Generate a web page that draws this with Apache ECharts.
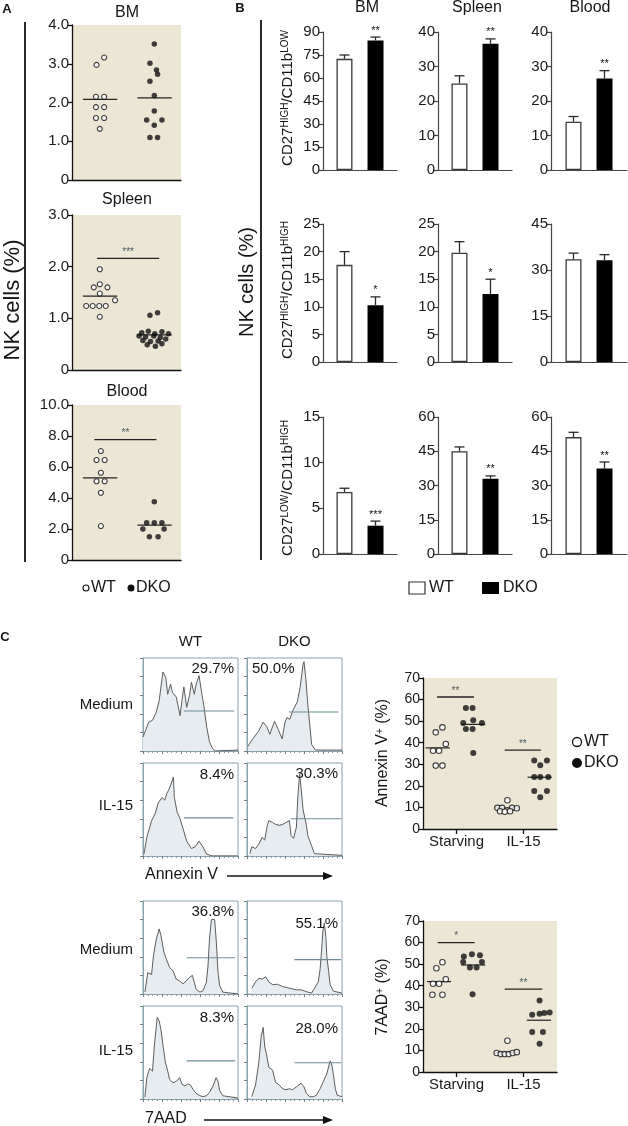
<!DOCTYPE html>
<html>
<head>
<meta charset="utf-8">
<script src="https://cdn.jsdelivr.net/npm/echarts@6.0.0/dist/echarts.min.js"></script>
<style>
html,body{margin:0;padding:0;background:#fff;}
#chart{width:628px;height:1126px;}
</style>
</head>
<body>
<div id="chart"></div>
<script>
// ================= DATA =================
// ---- Panel A: NK cells (%) ; points = [horizontal jitter from group centre, value]
const aTitles = ['BM', 'Spleen', 'Blood'];
const aTickLabels = [['0','1.0','2.0','3.0','4.0'], ['0','1.0','2.0','3.0'], ['0','2.0','4.0','6.0','8.0','10.0']];
const aBM_WT = [[-0.05,2.97],[0.09,3.16],[-0.06,2.15],[0.09,2.15],[-0.06,1.88],[0.09,1.88],[-0.06,1.60],[0.09,1.60],[0.01,1.32]];
const aBM_DKO = [[0.01,3.51],[-0.07,3.01],[0.05,2.84],[0.07,2.73],[-0.07,2.55],[0.01,2.18],[0.01,1.78],[-0.13,1.55],[0.15,1.55],[0.01,1.41],[-0.07,1.10],[0.07,1.10]];
const aSpleen_WT = [[0.01,1.95],[0.01,1.66],[-0.10,1.60],[0.15,1.60],[0.01,1.48],[0.29,1.35],[-0.24,1.24],[-0.12,1.24],[0.0,1.24],[0.12,1.24],[0.01,1.03]];
const aSpleen_DKO = [[-0.07,1.06],[0.07,1.11],[-0.22,0.72],[-0.10,0.75],[0.02,0.70],[0.15,0.74],[0.27,0.70],[-0.27,0.66],[-0.15,0.64],[0.0,0.66],[0.12,0.63],[0.22,0.60],[-0.20,0.57],[-0.06,0.55],[0.08,0.56],[-0.12,0.49],[0.03,0.46],[0.15,0.51]];
const aBlood_WT = [[0.03,7.03],[-0.05,6.45],[0.10,6.45],[0.03,5.63],[-0.05,5.08],[0.10,5.08],[0.03,4.34],[0.03,2.19]];
const aBlood_DKO = [[0.01,3.76],[-0.13,2.41],[0.01,2.41],[0.15,2.41],[-0.20,2.00],[0.19,2.00],[-0.08,1.50],[0.08,1.50]];
const aMedians = [[2.08, 2.12], [1.43, 0.68], [5.30, 2.25]];
const aSig = [null, [-0.04, 1.10, 2.16, '***'], [-0.09, 1.05, 7.76, '**']];

// ---- Panel B: subsets of NK cells (%), mean and SEM
const bTissues = ['BM', 'Spleen', 'Blood'];
const bSup = [['HIGH','LOW'], ['HIGH','HIGH'], ['LOW','HIGH']];
const bTicks = [
  [[0,15,30,45,60,75,90], [0,10,20,30,40], [0,10,20,30,40]],
  [[0,5,10,15,20,25], [0,5,10,15,20,25], [0,15,30,45]],
  [[0,5,10,15], [0,15,30,45,60], [0,15,30,45,60]]
];
const bWTMean = [[72.5,25.1,14.0],[17.6,19.8,33.5],[6.8,45.0,51.2]];
const bWTErr  = [[2.5,2.2,1.5],[2.4,2.0,2.0],[0.4,1.9,2.1]];
const bDKOMean = [[84.5,36.6,26.5],[10.3,12.3,33.2],[3.1,33.0,37.4]];
const bDKOErr  = [[2.2,1.4,2.3],[1.5,2.7,1.8],[0.5,1.2,2.9]];
const bStars = [['**','**','**'],['*','*',''],['***','**','**']];

// ---- Panel C: flow histograms ([channel %, count %])
const hAnnexMedWT = [[0,15],[6,31],[10,33],[14,42],[17,54],[21,85],[24,79],[26,61],[29,72],[31,63],[35,58],[39,38],[41,54],[43,69],[46,47],[49,60],[51,74],[54,61],[56,72],[59,81],[62,61],[64,49],[67,26],[70,10],[73,3],[76,0],[100,1]];
const hAnnexMedDKO = [[1,5],[6,13],[12,21],[17,31],[21,26],[24,18],[29,32],[33,23],[37,13],[40,31],[42,36],[45,34],[48,43],[53,53],[56,69],[59,93],[60,96],[62,77],[64,50],[66,29],[68,7],[72,1],[100,1]];
const hAnnexIL15WT = [[1,2],[4,20],[9,38],[13,46],[16,57],[20,63],[23,60],[25,67],[28,73],[31,82],[32,85],[33,63],[36,47],[39,40],[42,30],[46,16],[51,8],[55,10],[59,16],[63,10],[67,2],[73,0],[100,0]];
const hAnnexIL15DKO = [[3,2.5],[5,10],[9,8],[12.5,13],[16,20],[18.6,17],[21.4,33],[23,38],[27,36],[30,34],[34,33],[37.5,34],[41,36],[44.6,38],[46.4,22],[49,19],[52,31],[53.6,65],[55.4,88],[57,72],[59,50],[62.5,33],[64,22],[68,11],[71,2.5],[73,0.7],[100,0.7]];
const h7MedWT = [[2,2],[5,23],[9,21],[11,41],[14,59],[17,70],[19,62.5],[22,45],[24.6,37.5],[28,28.6],[31.6,25],[35,16],[38.6,14],[42,11],[45.6,14],[49,18],[52,20],[54,12.5],[56,5],[60,2],[63,3.5],[66.7,12.5],[68.4,30],[70,59],[72,80],[75.4,80],[77,59],[79,23],[80.7,9],[84,2],[100,0]];
const h7MedDKO = [[5,6],[9,13],[12.5,17],[16,16],[19.6,18.5],[23,13],[27,10],[28.6,11.5],[32,10.5],[37.5,8],[44.6,6.3],[46.4,7],[52,4.5],[57,4.5],[64,2],[68,1],[71,6],[75,13],[77,27],[78.6,48],[80,69],[81.4,76],[83,62],[84,41],[86,24],[87.5,10],[91,3],[100,1]];
const h7IL15WT = [[2,2],[4,23],[7,33],[10,30],[12,58],[15,88],[17,84],[19,74],[21,58],[23.5,40],[26,30],[28,21],[31.6,17.5],[35,19],[38.6,23],[41,16],[44,14],[47,16],[50,15],[52.6,10.5],[56,6],[60,3.5],[63,2.5],[66.7,3.5],[70,7],[73.7,14],[77,23],[79,19],[80.7,9],[84,3.5],[86,2],[100,1]];
const h7IL15DKO = [[5,2.5],[9,15],[12.5,40],[15,68],[17,77],[18.6,57],[20.7,47],[23,34],[27,31],[30,18],[34,15],[37.5,11],[41,10],[44.6,11],[48,10],[52,13],[54,15],[57,17],[60,13],[62.5,6],[66,2.5],[70,2.5],[73,4],[77,11],[80,18],[84,27],[87.5,41],[89,38],[91,26],[93,11],[95,4],[100,2.5]];
const hGates = [[[43,43],[96,43]], [[44,42],[96,42]], [[43,41],[95,41]], [[46,40],[99,40]],
                [[46,39],[97,39]], [[50,37],[99,37]], [[46,41],[97,41]], [[50,39],[99,39]]];
const hPct = ['29.7%','50.0%','8.4%','30.3%','36.8%','55.1%','8.3%','28.0%'];
const hCols = ['WT', 'DKO'];
const hRows = ['Medium', 'IL-15', 'Medium', 'IL-15'];
const hMarkers = ['Annexin V', '7AAD'];

// ---- Panel C: dot plots ; points = [position (Starving 0, IL-15 1, WT left / DKO right), value]
const cCats = ['Starving', 'IL-15'];
const cTicks = [0,10,20,30,40,50,60,70];
const cAnnexWT = [[-0.31,44.8],[-0.21,47.1],[-0.16,39.4],[-0.35,36.3],[-0.26,36.3],[-0.31,29.4],[-0.21,29.4],
                  [0.76,13.3],[0.61,9.8],[0.68,9.8],[0.83,9.8],[0.90,9.6],[0.65,8.2],[0.72,8.0],[0.80,8.2]];
const cAnnexDKO = [[0.14,56.1],[0.24,56.1],[0.10,49.1],[0.25,50.4],[0.38,49.1],[0.14,46.4],[0.24,46.4],[0.25,35.2],
                   [1.16,31.7],[1.35,31.7],[1.25,29.5],[1.16,24.1],[1.25,24.1],[1.37,24.1],[1.16,17.6],[1.35,17.6],[1.25,14.7]];
const cAnnexMed = [[-0.28,37.6],[0.25,48.5],[0.75,9.8],[1.24,24.0]];
const cAnnexSig = [[-0.29,0.26,61.2,'**'],[0.72,1.26,36.6,'**']];
const c7WT = [[-0.30,48.1],[-0.21,50.9],[-0.16,43.0],[-0.35,40.9],[-0.26,40.9],[-0.36,35.8],[-0.21,35.8],
              [0.76,14.5],[0.60,8.8],[0.66,8.3],[0.72,8.3],[0.78,8.3],[0.84,8.8],[0.90,9.2]];
const c7DKO = [[0.11,53.5],[0.23,54.6],[0.35,54.1],[0.10,51.0],[0.20,48.5],[0.30,48.5],[0.38,51.0],[0.24,36.0],
               [1.24,33.1],[1.13,26.5],[1.24,27.0],[1.31,27.3],[1.39,27.6],[1.13,18.5],[1.29,18.5],[1.24,13.1]];
const c7Med = [[-0.26,41.9],[0.25,49.6],[0.75,9.0],[1.23,24.0]];
const c7Sig = [[-0.28,0.27,60.0,'*'],[0.72,1.28,38.4,'**']];

// ================= BUILD =================
const FONT = 'Liberation Sans, Arial, Helvetica, sans-serif';
const BEIGE = '#ebe7d4';
const STAR = '#4a5960';
const grid = [], xAxis = [], yAxis = [], series = [], graphic = [];

function addGrid(box, extra) {
  grid.push(Object.assign({left: box[0], top: box[1], width: box[2], height: box[3], show: true,
    borderWidth: 0, backgroundColor: 'transparent', containLabel: false, outerBoundsMode: 'none'}, extra || {}));
  return grid.length - 1;
}
function addX(a) { xAxis.push(a); return xAxis.length - 1; }
function addY(a) { yAxis.push(a); return yAxis.length - 1; }
function txt(x, y, text, size, o) {
  o = o || {};
  const el = {type: 'text', x: x, y: y, silent: true, z: 50,
    style: {text: text, fontSize: size, fontFamily: FONT, fill: o.fill || '#151515', fontWeight: o.weight || 'normal',
      align: o.align || 'center', verticalAlign: o.va || 'middle', textAlign: o.align || 'center', textVerticalAlign: o.va || 'middle'}};
  if (o.rich) el.style.rich = o.rich;
  if (o.rot) el.rotation = o.rot;
  return el;
}
function seg(x1, y1, x2, y2, color, w) {
  return {type: 'line', silent: true, z: 50, shape: {x1: x1, y1: y1, x2: x2, y2: y2}, style: {stroke: color, lineWidth: w}};
}
function segSeries(xi, yi, segs, color, width, labels, fs) {
  return {type: 'custom', xAxisIndex: xi, yAxisIndex: yi, silent: true, clip: false, z: 2,
    data: segs.map(s => [s[0], s[1], s[2]]), encode: {x: [0, 1], y: 2},
    renderItem: function (p, api) {
      const a = api.coord([api.value(0), api.value(2)]);
      const b = api.coord([api.value(1), api.value(2)]);
      const ch = [{type: 'line', shape: {x1: a[0], y1: a[1], x2: b[0], y2: b[1]}, style: {stroke: color, lineWidth: width}}];
      const lab = labels ? labels[p.dataIndex] : '';
      if (lab) ch.push({type: 'text', x: (a[0] + b[0]) / 2, y: a[1] - 1,
        style: {text: lab, fill: STAR, fontSize: fs, fontFamily: FONT, align: 'center', verticalAlign: 'bottom', textAlign: 'center', textVerticalAlign: 'bottom'}});
      return {type: 'group', children: ch};
    }};
}
const supRich = (main, sup) => ({
  n: {fontSize: main, fontFamily: FONT, fill: '#151515'},
  s: {fontSize: sup, fontFamily: FONT, fill: '#151515', verticalAlign: 'top', textVerticalAlign: 'top'}
});

// ---------- Panel A ----------
const aWT = [aBM_WT, aSpleen_WT, aBlood_WT];
const aDKO = [aBM_DKO, aSpleen_DKO, aBlood_DKO];
const aBoxes = [[72, 25, 109, 155], [72, 215, 109, 155], [72, 405, 109, 155]];
const aTitleY = [13, 200, 392];
aTitles.forEach(function (t, i) {
  const g = addGrid(aBoxes[i], {backgroundColor: BEIGE});
  const labels = aTickLabels[i];
  const step = parseFloat(labels[1]);
  const xi = addX({gridIndex: g, type: 'value', min: -0.5, max: 1.5,
    axisLine: {show: true, onZero: false, lineStyle: {color: '#111', width: 1.3}},
    axisTick: {show: false}, axisLabel: {show: false}, splitLine: {show: false}});
  const yi = addY({gridIndex: g, type: 'value', min: 0, max: parseFloat(labels[labels.length - 1]), interval: step,
    axisLine: {show: true, onZero: false, lineStyle: {color: '#111', width: 1.3}},
    axisTick: {show: true, length: 4, lineStyle: {color: '#111', width: 1.3}},
    axisLabel: {fontSize: 15, color: '#1a1a1a', fontFamily: FONT, margin: 3, formatter: v => labels[Math.round(v / step)]},
    splitLine: {show: false}});
  series.push(segSeries(xi, yi, aMedians[i].map((m, k) => [k - 0.3, k + 0.33, m]), '#222', 1.3));
  if (aSig[i]) series.push(segSeries(xi, yi, [aSig[i].slice(0, 3)], '#222', 1.3, [aSig[i][3]], 10));
  series.push({type: 'scatter', xAxisIndex: xi, yAxisIndex: yi, symbol: 'circle', symbolSize: 5, z: 3, silent: true,
    itemStyle: {color: '#fff', borderColor: '#111', borderWidth: 1.1}, data: aWT[i].map(p => [p[0], p[1]])});
  series.push({type: 'scatter', xAxisIndex: xi, yAxisIndex: yi, symbol: 'circle', symbolSize: 5.5, z: 3, silent: true,
    itemStyle: {color: '#111'}, data: aDKO[i].map(p => [1 + p[0], p[1]])});
  graphic.push(txt(127, aTitleY[i], t, 16));
});
graphic.push(txt(7, 9, 'A', 13, {weight: 'bold'}));
graphic.push(seg(25, 22, 25, 562, '#2a2a2a', 2));
graphic.push(txt(13, 300, 'NK cells (%)', 22, {rot: Math.PI / 2}));
// legend A
graphic.push({type: 'circle', shape: {cx: 86, cy: 588, r: 3}, style: {fill: '#fff', stroke: '#111', lineWidth: 1.1}, z: 50});
graphic.push(txt(91, 588, 'WT', 16, {align: 'left'}));
graphic.push({type: 'circle', shape: {cx: 131, cy: 588, r: 3.5}, style: {fill: '#111'}, z: 50});
graphic.push(txt(136, 588, 'DKO', 16, {align: 'left'}));

// ---------- Panel B ----------
const bCols = [[323, 74], [438, 74], [551, 76]];
const bRowsBox = [[32, 138], [224, 138], [417, 137]];
const bTitleX = [367, 477, 590];
const bLabelY = [98, 290, 488];
for (let r = 0; r < 3; r++) {
  for (let c = 0; c < 3; c++) {
    const ticks = bTicks[r][c];
    const g = addGrid([bCols[c][0], bRowsBox[r][0], bCols[c][1], bRowsBox[r][1]]);
    const xi = addX({gridIndex: g, type: 'category', data: [''],
      axisLine: {show: true, onZero: false, lineStyle: {color: '#444', width: 1.2}},
      axisTick: {show: false}, axisLabel: {show: false}, splitLine: {show: false}});
    const yi = addY({gridIndex: g, type: 'value', min: ticks[0], max: ticks[ticks.length - 1], interval: ticks[1] - ticks[0],
      axisLine: {show: true, onZero: false, lineStyle: {color: '#444', width: 1.2}},
      axisTick: {show: true, length: 4, lineStyle: {color: '#444', width: 1.2}},
      axisLabel: {fontSize: 15, color: '#1a1a1a', fontFamily: FONT, margin: 3},
      splitLine: {show: false}});
    series.push({type: 'bar', xAxisIndex: xi, yAxisIndex: yi, barWidth: 16, barGap: '94%', silent: true,
      itemStyle: {color: '#fff', borderColor: '#3a3a3a', borderWidth: 1.3}, data: [bWTMean[r][c]]});
    series.push({type: 'bar', xAxisIndex: xi, yAxisIndex: yi, barWidth: 16, barGap: '94%', silent: true,
      itemStyle: {color: '#000'}, data: [bDKOMean[r][c]]});
    const star = bStars[r][c];
    series.push({type: 'custom', xAxisIndex: xi, yAxisIndex: yi, clip: false, silent: true, z: 4,
      data: [[0, bWTMean[r][c], bWTErr[r][c], -1], [0, bDKOMean[r][c], bDKOErr[r][c], 1]],
      encode: {x: 0, y: 1},
      renderItem: function (p, api) {
        const side = api.value(3), m = api.value(1), e = api.value(2);
        const b = api.coord([0, m]), t = api.coord([0, m + e]);
        const x = b[0] + side * 15.5;
        const ch = [
          {type: 'line', shape: {x1: x, y1: b[1], x2: x, y2: t[1]}, style: {stroke: '#2a2a2a', lineWidth: 1.3}},
          {type: 'line', shape: {x1: x - 5, y1: t[1], x2: x + 5, y2: t[1]}, style: {stroke: '#2a2a2a', lineWidth: 1.3}}
        ];
        if (side > 0 && star) ch.push({type: 'text', x: x, y: t[1] - 1,
          style: {text: star, fontSize: 11, fontFamily: FONT, fill: '#111', align: 'center', verticalAlign: 'bottom', textAlign: 'center', textVerticalAlign: 'bottom'}});
        return {type: 'group', children: ch};
      }});
  }
  graphic.push(txt(288, bLabelY[r], '{n|CD27}{s|' + bSup[r][0] + '}{n|/CD11b}{s|' + bSup[r][1] + '}', 15,
    {rot: Math.PI / 2, rich: supRich(15, 10)}));
}
bTissues.forEach((t, c) => graphic.push(txt(bTitleX[c], 8, t, 16)));
graphic.push(txt(240, 8, 'B', 13, {weight: 'bold'}));
graphic.push(seg(261, 20, 261, 560, '#2a2a2a', 2));
graphic.push(txt(247, 282, 'NK cells (%)', 20, {rot: Math.PI / 2}));
// legend B
graphic.push({type: 'rect', shape: {x: 409, y: 582, width: 16, height: 12}, style: {fill: '#fff', stroke: '#333', lineWidth: 1.2}, z: 50});
graphic.push(txt(429, 588, 'WT', 16, {align: 'left'}));
graphic.push({type: 'rect', shape: {x: 482, y: 582, width: 17, height: 12}, style: {fill: '#000'}, z: 50});
graphic.push(txt(503, 588, 'DKO', 16, {align: 'left'}));

// ---------- Panel C: histograms ----------
const hCurves = [hAnnexMedWT, hAnnexMedDKO, hAnnexIL15WT, hAnnexIL15DKO, h7MedWT, h7MedDKO, h7IL15WT, h7IL15DKO];
const hColLeft = [143, 247];
const hRowTop = [658, 763, 901, 1006];
const hPctDy = [11, 11, 12, 11, 11, 23, 12, 23];
const HB = '#8aa2ab';
hCurves.forEach(function (curve, k) {
  const row = Math.floor(k / 2), col = k % 2;
  const g = addGrid([hColLeft[col], hRowTop[row], 95, 93], {borderWidth: 1, borderColor: HB, backgroundColor: '#fff'});
  const xi = addX({gridIndex: g, type: 'value', min: 0, max: 100, interval: 20,
    axisLine: {show: true, onZero: false, lineStyle: {color: HB, width: 1}},
    axisTick: {show: true, length: 3, lineStyle: {color: '#6f7f86'}},
    minorTick: {show: true, splitNumber: 4, length: 2, lineStyle: {color: '#8d9aa0'}},
    axisLabel: {show: false}, splitLine: {show: false}});
  const yi = addY({gridIndex: g, type: 'value', min: 0, max: 100, interval: 20,
    axisLine: {show: true, onZero: false, lineStyle: {color: HB, width: 1}},
    axisTick: {show: true, length: 3, lineStyle: {color: '#6f7f86'}},
    axisLabel: {show: false}, splitLine: {show: false}});
  series.push({type: 'line', xAxisIndex: xi, yAxisIndex: yi, data: curve, symbol: 'none', silent: true,
    lineStyle: {color: '#5c5c5c', width: 1}, areaStyle: {color: '#e6ecf0', opacity: 1}});
  series.push({type: 'line', xAxisIndex: xi, yAxisIndex: yi, data: hGates[k], symbol: 'none', silent: true, z: 3,
    lineStyle: {color: '#6e8c96', width: 1.1}});
  const left = hColLeft[col];
  if (hPct[k] === '50.0%') graphic.push(txt(left + 5, hRowTop[row] + hPctDy[k], hPct[k], 15, {align: 'left'}));
  else graphic.push(txt(left + 91, hRowTop[row] + hPctDy[k], hPct[k], 15, {align: 'right'}));
});
hCols.forEach((t, c) => graphic.push(txt(hColLeft[c] + 47.5, 642, t, 15)));
const hRowY = [705, 806, 950, 1051];
hRows.forEach((t, r) => graphic.push(txt(133, hRowY[r], t, 15, {align: 'right'})));
graphic.push(txt(145, 875, hMarkers[0], 16, {align: 'left'}));
graphic.push(seg(227, 876, 326, 876, '#111', 1.6));
graphic.push({type: 'polygon', shape: {points: [[333, 876], [323, 872], [323, 880]]}, style: {fill: '#111'}, z: 50});
graphic.push(txt(145, 1119, hMarkers[1], 16, {align: 'left'}));
graphic.push(seg(204, 1120, 326, 1120, '#111', 1.6));
graphic.push({type: 'polygon', shape: {points: [[333, 1120], [323, 1116], [323, 1124]]}, style: {fill: '#111'}, z: 50});
graphic.push(txt(5, 637, 'C', 13, {weight: 'bold'}));

// ---------- Panel C: dot plots ----------
const cSets = [
  {wt: cAnnexWT, dko: cAnnexDKO, med: cAnnexMed, sig: cAnnexSig, box: [423, 678, 134, 151],
   label: '{n|Annexin V}{s|+}{n| (%)}', ly: 753},
  {wt: c7WT, dko: c7DKO, med: c7Med, sig: c7Sig, box: [423, 921, 134, 151],
   label: '{n|7AAD}{s|+}{n| (%)}', ly: 997}
];
cSets.forEach(function (s) {
  const g = addGrid(s.box, {backgroundColor: BEIGE});
  addX({gridIndex: g, type: 'category', data: cCats,
    axisLine: {show: true, onZero: false, lineStyle: {color: '#111', width: 1.3}},
    axisTick: {show: true, alignWithLabel: true, interval: 0, length: 5, lineStyle: {color: '#111', width: 1.3}},
    axisLabel: {interval: 0, hideOverlap: false, fontSize: 15, color: '#1a1a1a', fontFamily: FONT, margin: 5}, splitLine: {show: false}});
  const xi = addX({gridIndex: g, type: 'value', min: -0.5, max: 1.5, show: false,
    axisLine: {onZero: false}, splitLine: {show: false}});
  const yi = addY({gridIndex: g, type: 'value', min: cTicks[0], max: cTicks[cTicks.length - 1], interval: cTicks[1] - cTicks[0],
    axisLine: {show: true, onZero: false, lineStyle: {color: '#111', width: 1.3}},
    axisTick: {show: true, length: 4, lineStyle: {color: '#111', width: 1.3}},
    axisLabel: {fontSize: 14, color: '#1a1a1a', fontFamily: FONT, margin: 3}, splitLine: {show: false}});
  series.push(segSeries(xi, yi, s.med.map(m => [m[0] - 0.18, m[0] + 0.18, m[1]]), '#222', 1.2));
  series.push(segSeries(xi, yi, s.sig.map(q => q.slice(0, 3)), '#222', 1.3, s.sig.map(q => q[3]), 10));
  series.push({type: 'scatter', xAxisIndex: xi, yAxisIndex: yi, symbol: 'circle', symbolSize: 5.5, z: 3, silent: true,
    itemStyle: {color: '#fff', borderColor: '#111', borderWidth: 1.1}, data: s.wt});
  series.push({type: 'scatter', xAxisIndex: xi, yAxisIndex: yi, symbol: 'circle', symbolSize: 6, z: 3, silent: true,
    itemStyle: {color: '#111'}, data: s.dko});
  graphic.push(txt(383, s.ly, s.label, 16, {rot: Math.PI / 2, rich: supRich(16, 10)}));
});
// legend C
graphic.push({type: 'circle', shape: {cx: 577, cy: 742, r: 4.5}, style: {fill: '#fff', stroke: '#111', lineWidth: 1.3}, z: 50});
graphic.push(txt(584, 742, 'WT', 16, {align: 'left'}));
graphic.push({type: 'circle', shape: {cx: 577, cy: 763, r: 5}, style: {fill: '#111'}, z: 50});
graphic.push(txt(584, 763, 'DKO', 16, {align: 'left'}));

const chart = echarts.init(document.getElementById('chart'), null, {renderer: 'canvas'});
chart.setOption({animation: false, textStyle: {fontFamily: FONT}, grid: grid, xAxis: xAxis, yAxis: yAxis, series: series, graphic: graphic});
</script>
</body>
</html>
